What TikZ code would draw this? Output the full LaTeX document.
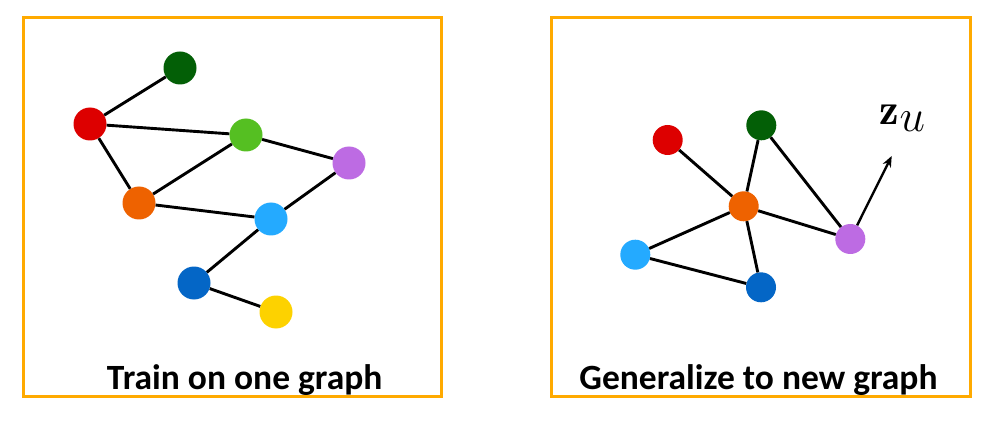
\documentclass[tikz,border=0pt]{standalone}
\usepackage{fontspec}
\newfontfamily\labelfont{Carlito}
\usetikzlibrary{arrows.meta}
\definecolor{boxc}{HTML}{FFAA00}
\definecolor{cdg}{HTML}{035F06}
\definecolor{cred}{HTML}{DD0000}
\definecolor{cgr}{HTML}{55BF22}
\definecolor{cpu}{HTML}{BD6BE3}
\definecolor{cor}{HTML}{EE6200}
\definecolor{clb}{HTML}{24AAFF}
\definecolor{cbl}{HTML}{0466C6}
\definecolor{cye}{HTML}{FDD200}
\begin{document}
\begin{tikzpicture}[x=1pt,y=-1pt,
  frame/.style={draw=boxc,line width=2.5pt},
  dotA/.style={circle,inner sep=0pt,minimum size=33pt,fill=#1},
  dotB/.style={circle,inner sep=0pt,minimum size=30pt,fill=#1},
  edge/.style={line width=2.9pt,black},
  caption/.style={font=\labelfont\bfseries\fontsize{35.5}{36}\selectfont,anchor=base}]
\useasboundingbox (0,0) rectangle (996,422);
\fill[white] (0,0) rectangle (996,422);
% frames
\draw[frame] (23.5,17.5) rectangle (441.5,396.5);
\draw[frame] (551.5,17.5) rectangle (970.5,396.5);
% left graph
\node[dotA=cdg] (l1) at (180,68) {};
\node[dotA=cred] (l2) at (90,124) {};
\node[dotA=cgr] (l3) at (246,135) {};
\node[dotA=cpu] (l4) at (349,163) {};
\node[dotA=cor] (l5) at (139,203) {};
\node[dotA=clb] (l6) at (271,219) {};
\node[dotA=cbl] (l7) at (194,283) {};
\node[dotA=cye] (l8) at (276,312) {};
\draw[edge] (l2) -- (l1);
\draw[edge] (l2) -- (l3);
\draw[edge] (l2) -- (l5);
\draw[edge] (l5) -- (l3);
\draw[edge] (l3) -- (l4);
\draw[edge] (l5) -- (l6);
\draw[edge] (l6) -- (l4);
\draw[edge] (l6) -- (l7);
\draw[edge] (l7) -- (l8);
% right graph
\node[dotB=cred] (r1) at (667.7,140) {};
\node[dotB=cdg] (r2) at (761.3,125.3) {};
\node[dotB=cor] (r3) at (743.7,206.3) {};
\node[dotB=cpu] (r4) at (850.3,239) {};
\node[dotB=clb] (r5) at (635.3,254.7) {};
\node[dotB=cbl] (r6) at (761,287.3) {};
\coordinate (tip) at (891.7,156);
\draw[edge] (r1) -- (r3);
\draw[edge] (r2) -- (r3);
\draw[edge] (r2) -- (r4);
\draw[edge] (r3) -- (r4);
\draw[edge] (r3) -- (r5);
\draw[edge] (r3) -- (r6);
\draw[edge] (r5) -- (r6);
\draw[line width=2.4pt,-{Stealth[length=11pt,width=9pt]}] (r4) -- (tip);
\node[font=\fontsize{20}{20}\selectfont,scale=2.2,inner sep=0pt] (zu) at (903,118) {$\mathbf{z}_{\textstyle u}$};
% captions
\node[caption] (c1) at (244.7,389) {Train on one graph};
\node[caption] (c2) at (758.5,389) {Generalize to new graph};
\end{tikzpicture}
\end{document}
